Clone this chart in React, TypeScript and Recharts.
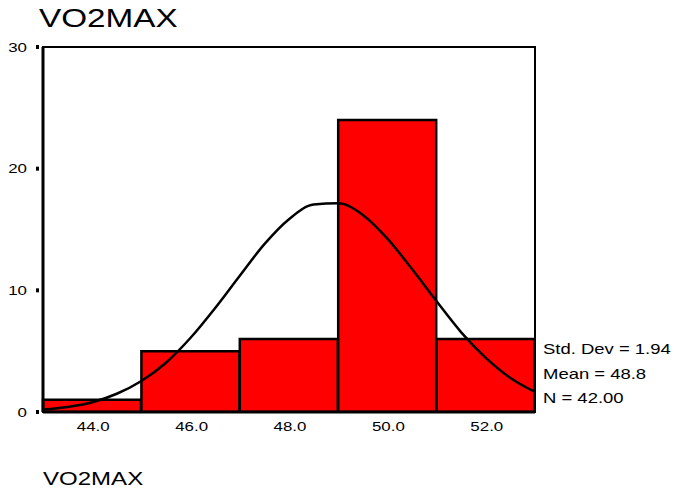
import type { ReactNode } from 'react'
import { Bar, ComposedChart, Line, ReferenceArea, XAxis, YAxis } from 'recharts'

// histogram bins (midpoints) and their counts
const bins = ['44.0', '46.0', '48.0', '50.0', '52.0']
const counts = [1, 5, 6, 24, 6]

// normal curve
const curveX = [43, 43.5, 44, 44.5, 45, 45.5, 46, 46.5, 47, 47.5, 48, 48.5, 49, 49.5, 50, 50.5, 51, 51.5, 52, 52.5, 53]
const curveY = [0.2, 0.41, 0.8, 1.5, 2.55, 4.05, 6.1, 8.55, 11.2, 13.8, 15.85, 17.05, 17.15, 16.2, 14.25, 11.75, 9.1, 6.55, 4.45, 2.8, 1.65]

const yTicks = [0, 10, 20, 30]
const stats = ['Std. Dev = 1.94', 'Mean = 48.8', 'N = 42.00']
const title = 'VO2MAX'
const xLabel = 'VO2MAX'

const binData = bins.map((bin, i) => ({ bin, count: counts[i] }))
const curveData = curveX.map((x, i) => ({ x, y: curveY[i] }))

const font = '"Liberation Sans", Arial, sans-serif'

// the source picture has its text stretched horizontally
function WideText({
	x,
	y,
	size,
	anchor = 'start',
	stretch = 1.3,
	children,
}: {
	x: number
	y: number
	size: number
	anchor?: 'start' | 'middle' | 'end'
	stretch?: number
	children: ReactNode
}) {
	return (
		<text
			transform={`translate(${x},${y}) scale(${stretch},1)`}
			textAnchor={anchor}
			fontSize={size}
			fill="#000"
			fontFamily={font}
		>
			{children}
		</text>
	)
}

function YTick({ y, payload }: { y?: number; payload?: { value: number } }) {
	const cy = y ?? 0
	return (
		<g>
			<rect x={36} y={cy - 2} width={3} height={4} fill="#000" />
			<WideText x={27} y={cy + 4.5} size={13} anchor="end">
				{payload?.value}
			</WideText>
		</g>
	)
}

function XTick({ x, y, payload }: { x?: number; y?: number; payload?: { value: string } }) {
	return (
		<WideText x={(x ?? 0) + 1} y={(y ?? 0) + 11} size={13} anchor="middle">
			{payload?.value}
		</WideText>
	)
}

export default function App() {
	return (
		<div style={{ position: 'absolute', left: 0, top: 0, width: 674, height: 488, background: '#fff' }}>
			<ComposedChart
				width={674}
				height={488}
				data={binData}
				margin={{ top: 47, right: 139, bottom: 0, left: 0 }}
				barCategoryGap={0}
				barGap={0}
			>
				<XAxis
					xAxisId="cat"
					dataKey="bin"
					type="category"
					height={76}
					axisLine={{ stroke: '#000', strokeWidth: 3 }}
					tickLine={false}
					tick={<XTick />}
					interval={0}
				/>
				<XAxis xAxisId="num" type="number" dataKey="x" domain={[43, 53]} allowDataOverflow hide />
				<YAxis
					domain={[0, 30]}
					ticks={yTicks}
					width={43}
					axisLine={{ stroke: '#000', strokeWidth: 3 }}
					tickLine={false}
					tick={<YTick />}
					allowDataOverflow
				/>
				<Bar xAxisId="cat" dataKey="count" fill="#ff0000" stroke="#000" strokeWidth={2.5} isAnimationActive={false} />
				<Line
					xAxisId="num"
					data={curveData}
					dataKey="y"
					type="monotone"
					stroke="#000"
					strokeWidth={2.5}
					dot={false}
					isAnimationActive={false}
				/>
				<ReferenceArea
					xAxisId="num"
					x1={43}
					x2={53}
					y1={0}
					y2={30}
					fill="none"
					fillOpacity={0}
					stroke="#000"
					strokeWidth={2}
					ifOverflow="visible"
				/>
			</ComposedChart>
			<svg width={674} height={488} style={{ position: 'absolute', left: 0, top: 0, pointerEvents: 'none' }}>
				<WideText x={39} y={27} size={26} stretch={1.28}>
					{title}
				</WideText>
				<WideText x={43} y={485} size={18.5}>
					{xLabel}
				</WideText>
				{stats.map((s, i) => (
					<WideText key={s} x={543} y={354 + i * 24.5} size={14} stretch={1.32}>
						{s}
					</WideText>
				))}
			</svg>
		</div>
	)
}
